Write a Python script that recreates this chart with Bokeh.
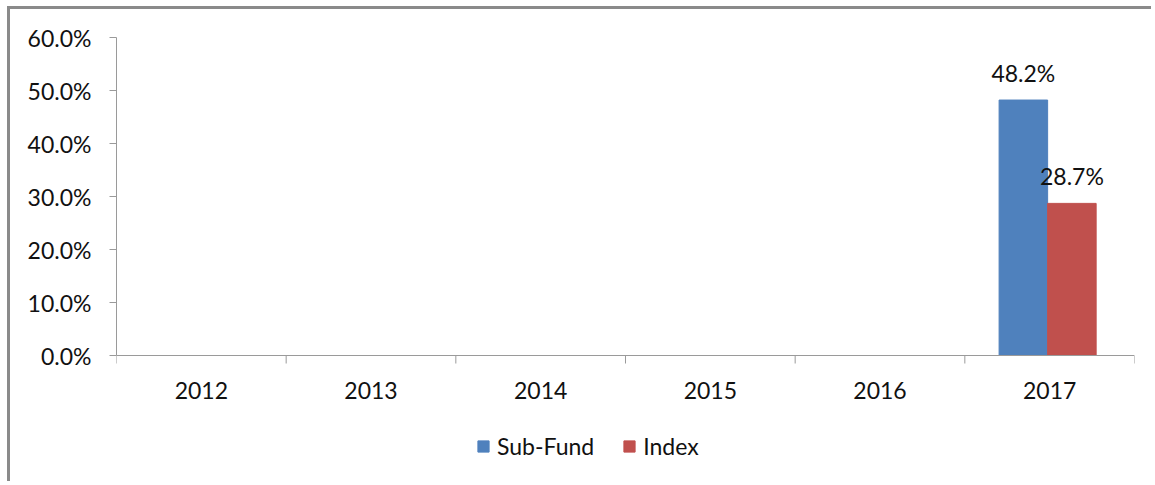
from bokeh.plotting import figure
from bokeh.models import (FactorRange, Range1d, FixedTicker, Span,
                          PrintfTickFormatter, Legend, LegendItem, ColumnDataSource)
from bokeh.transform import dodge
from bokeh.core.properties import value
from bokeh.embed import file_html
from bokeh.resources import INLINE

nan = float("nan")
years = ["2012", "2013", "2014", "2015", "2016", "2017"]
sub_fund = [nan, nan, nan, nan, nan, 48.2]
index_vals = [nan, nan, nan, nan, nan, 28.7]
y_ticks = [0, 10, 20, 30, 40, 50, 60]

def lab(v):
    return "" if v != v else f"{v:.1f}%"

src = ColumnDataSource(dict(
    year=years, sub=sub_fund, idx=index_vals,
    sub_lbl=[lab(v) for v in sub_fund], idx_lbl=[lab(v) for v in index_vals],
))

FONT = "Lato"
FS = "23px"
TXT = "#111111"
GRAY = "#9a9a9a"
BLUE = "#4F81BD"
RED = "#C0504D"

# layout (pixels): value axis 0..60 spans 318 px, frame reaches canvas bottom
PX_PER_UNIT = 318 / 60.0
BELOW_PX = 129
y_lo = -BELOW_PX / PX_PER_UNIT

p = figure(width=1144, height=475, x_range=FactorRange(factors=years),
           y_range=Range1d(y_lo, 60), x_axis_type=None,
           output_backend="svg", toolbar_location=None,
           min_border_left=106, min_border_right=20, min_border_top=28,
           min_border_bottom=0)
p.styles = {"margin-left": "7px", "margin-top": "6px",
            "border-top": "3px solid #8a8a8a", "border-left": "3px solid #8a8a8a"}
p.outline_line_color = None
p.xgrid.visible = False
p.ygrid.visible = False

# y axis
ya = p.yaxis[0]
ya.bounds = (0, 60)
ya.ticker = FixedTicker(ticks=y_ticks)
ya.formatter = PrintfTickFormatter(format="%.1f%%")
ya.major_tick_out = 7
ya.major_tick_in = 0
ya.minor_tick_out = 0
ya.minor_tick_in = 0
ya.axis_line_color = GRAY
ya.major_tick_line_color = GRAY
ya.major_label_text_font = FONT
ya.major_label_text_font_size = FS
ya.major_label_text_color = TXT
ya.major_label_standoff = 18

# category axis drawn at value 0: line, boundary ticks, labels
p.add_layout(Span(location=0, dimension="width", line_color=GRAY, line_width=1))
tick_len = 8 / PX_PER_UNIT
p.segment(x0=dodge("year", -0.5, range=p.x_range), y0=0,
          x1=dodge("year", -0.5, range=p.x_range), y1=-tick_len,
          source=src, line_color=GRAY, line_width=1)
p.segment(x0=dodge("year", 0.5, range=p.x_range), y0=0,
          x1=dodge("year", 0.5, range=p.x_range), y1=-tick_len,
          source=ColumnDataSource(dict(year=[years[-1]])), line_color=GRAY, line_width=1)
p.text(x="year", y=0, text="year", source=src, y_offset=35,
       text_align="center", text_baseline="alphabetic",
       text_font=value(FONT), text_font_size=FS, text_color=TXT)

w = 0.286
bar_shift = -0.012
r1 = p.vbar(x=dodge("year", -w / 2 + bar_shift, range=p.x_range), top="sub", width=w,
            source=src, fill_color=BLUE, line_color=BLUE)
r2 = p.vbar(x=dodge("year", w / 2 + bar_shift, range=p.x_range), top="idx", width=w,
            source=src, fill_color=RED, line_color=RED)

for xo, col, lc in [(-w / 2 + bar_shift, "sub", "sub_lbl"), (w / 2 + bar_shift, "idx", "idx_lbl")]:
    p.text(x=dodge("year", xo, range=p.x_range), y=col, text=lc, source=src,
           y_offset=-27, text_align="center", text_baseline="alphabetic",
           text_font=value(FONT), text_font_size=FS, text_color=TXT)

legend = Legend(items=[LegendItem(label="Sub-Fund", renderers=[r1]),
                       LegendItem(label="Index", renderers=[r2])],
                orientation="horizontal", location=(360, 24),
                glyph_width=14, glyph_height=14, label_standoff=7, spacing=28,
                padding=0, margin=0, border_line_color=None,
                background_fill_alpha=0,
                label_text_font=FONT, label_text_font_size=FS,
                label_text_color=TXT)
p.add_layout(legend, "center")

open("out.html", "w").write(file_html(p, INLINE))
